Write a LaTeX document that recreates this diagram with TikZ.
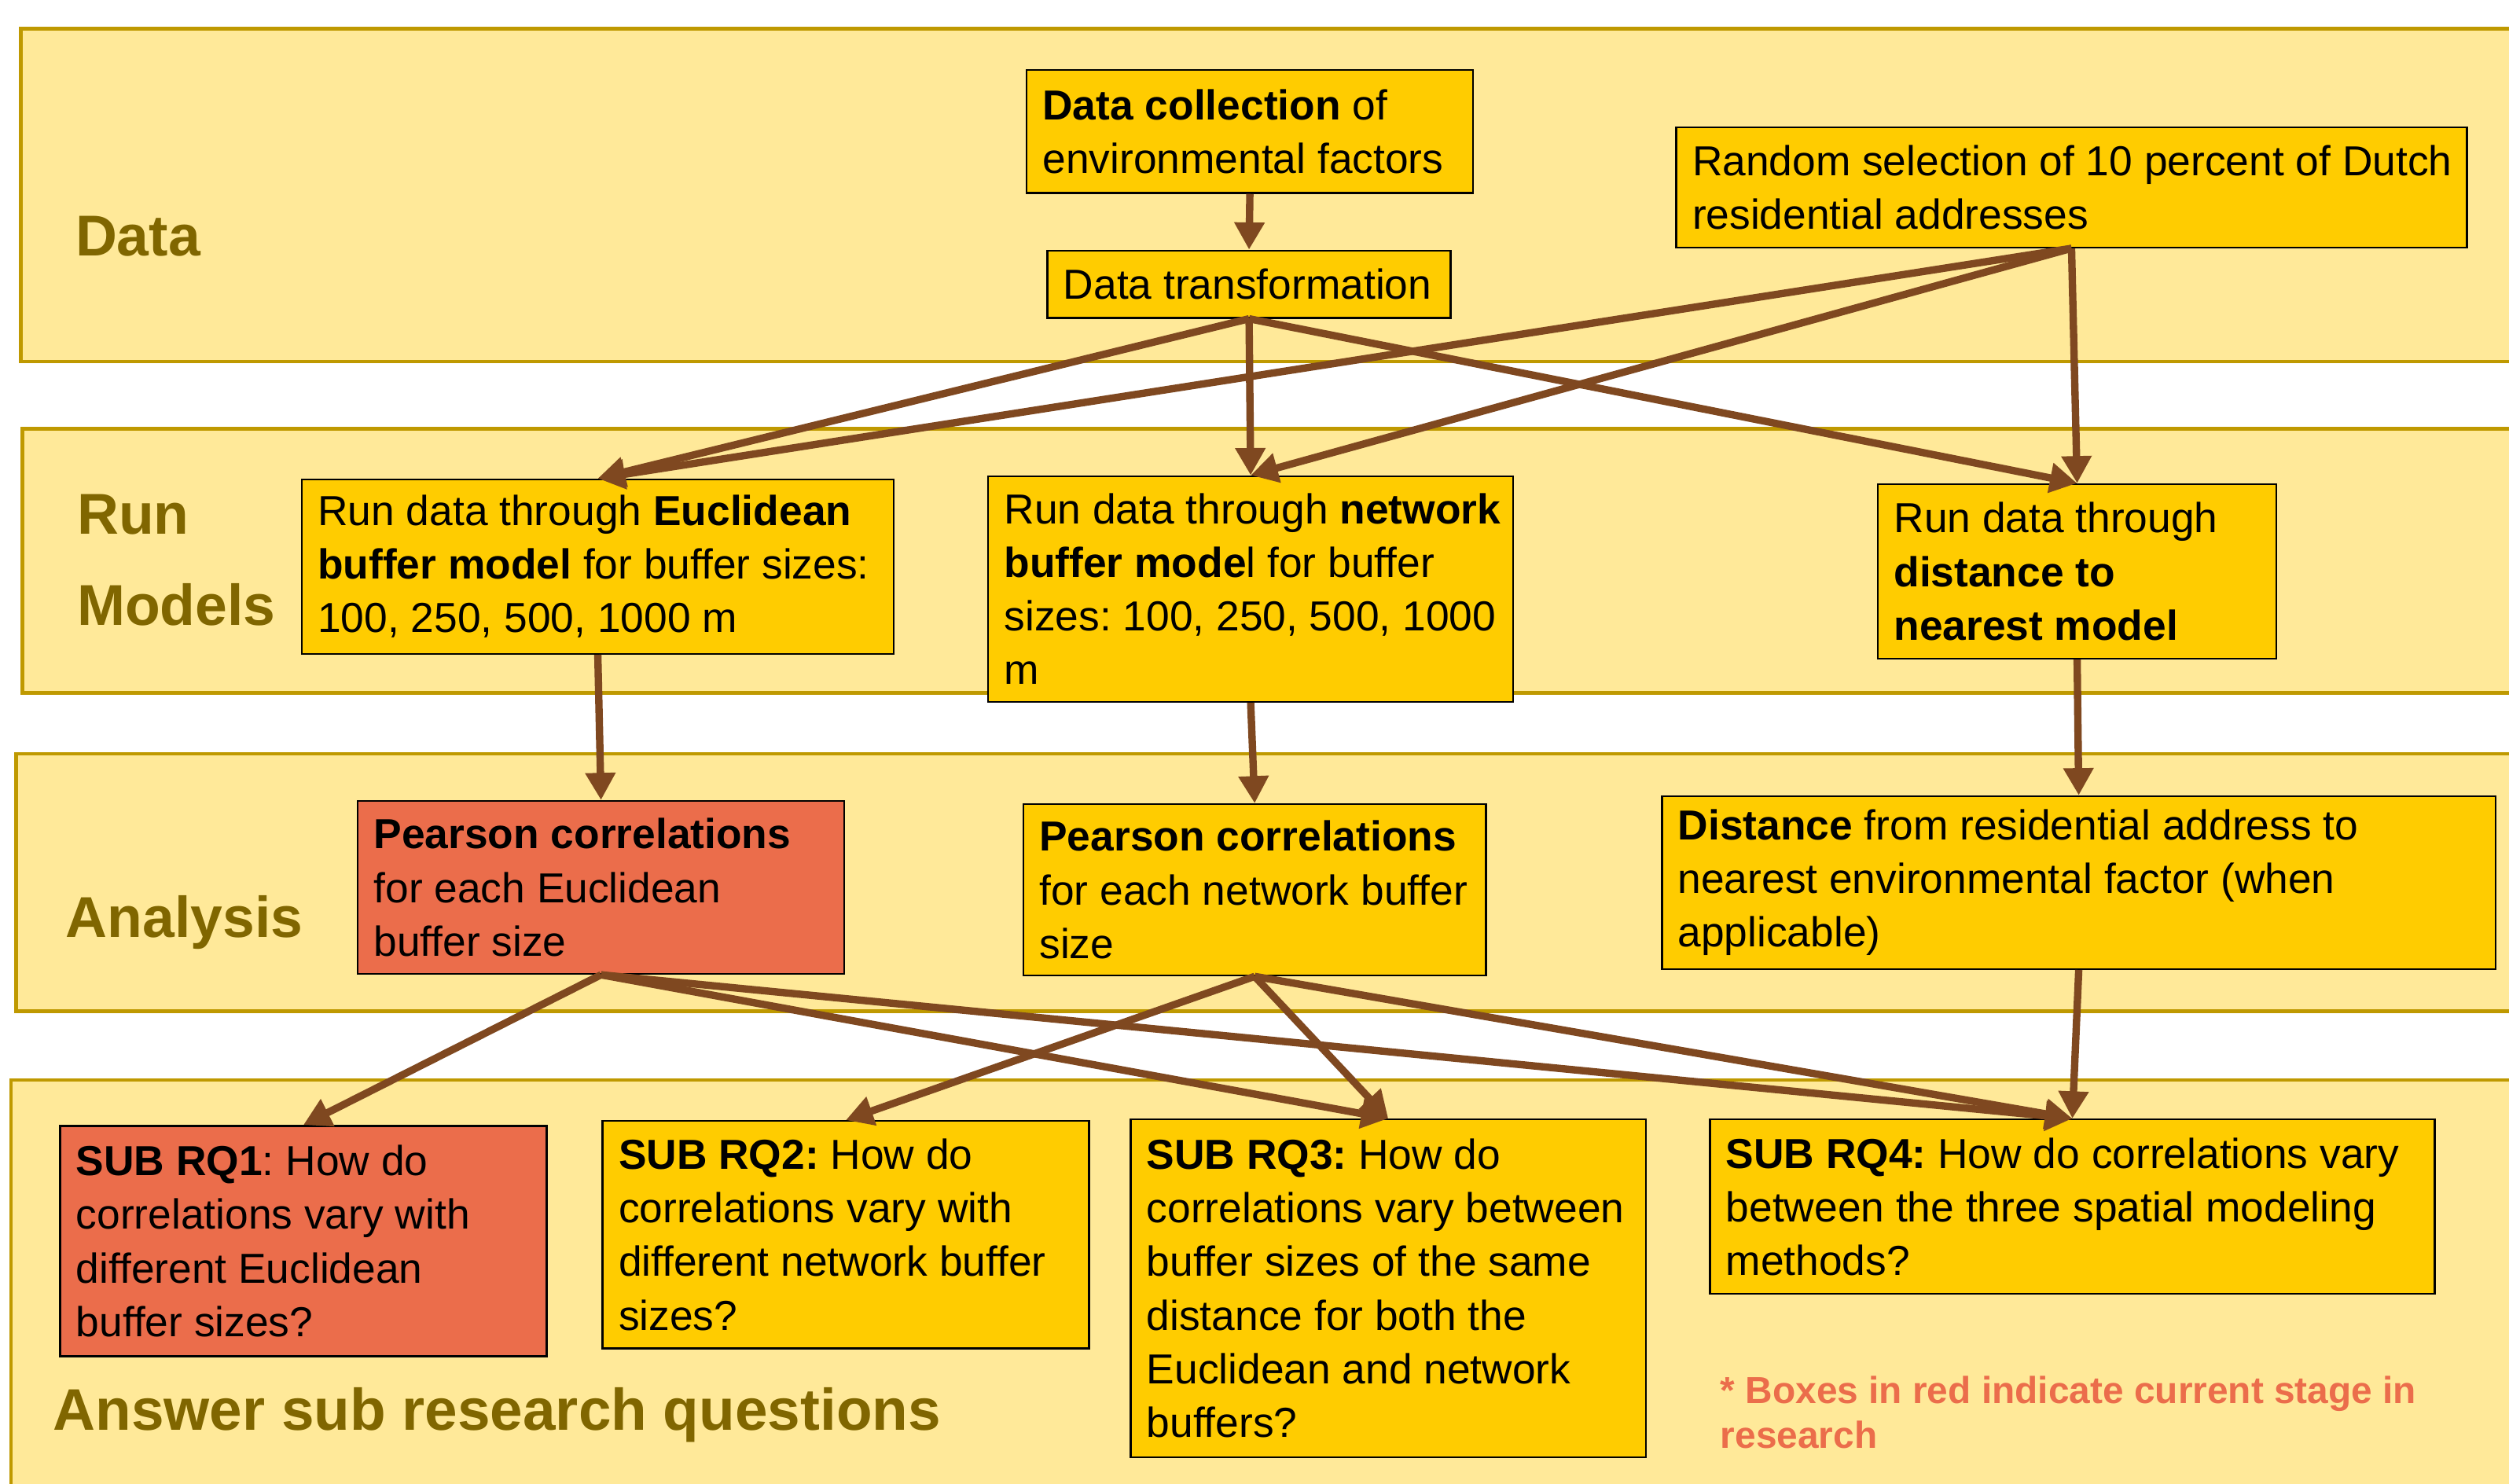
\documentclass[tikz,border=0pt]{standalone}
\usepackage{fontspec}
\setmainfont{Liberation Sans}
\usetikzlibrary{arrows.meta}
\definecolor{bandfill}{HTML}{FFE999}
\definecolor{banddraw}{HTML}{BF9900}
\definecolor{labelc}{HTML}{806600}
\definecolor{boxy}{HTML}{FFCC00}
\definecolor{boxr}{HTML}{EB6D4B}
\definecolor{arrowc}{HTML}{7F4820}
\newcommand\boxfont{\fontsize{26.2pt}{33.5pt}\selectfont}
\newcommand\bandfont{\fontsize{36pt}{57pt}\selectfont\bfseries}
\newcommand\notefont{\fontsize{23.5pt}{28pt}\selectfont\bfseries}
\frenchspacing
\begin{document}
\begin{tikzpicture}[x=1pt,y=-1pt,
  band/.style={draw=banddraw, fill=bandfill, line width=2.2pt},
  bandlabel/.style={text=labelc, font=\bandfont, inner sep=0pt, align=left},
  box/.style={draw=black, line width=1.2pt, fill=boxy, anchor=north west, inner xsep=10pt, inner ysep=0pt, align=left, font=\boxfont,
    execute at begin node={\spaceskip=0pt\xspaceskip=0pt\frenchspacing}},
  redbox/.style={box, fill=boxr},
  arr/.style={draw=arrowc, line width=4.6pt, -{Triangle[length=17pt,width=18pt]}},
]
\useasboundingbox (0,0) rectangle (1568,927);
\clip (0,0) rectangle (1568,927);
\fill[white] (0,0) rectangle (1568,927);

% bands
\draw[band] (13,18) rectangle (1600,226);
\draw[band] (14,268) rectangle (1600,433);
\draw[band] (10,471) rectangle (1600,632);
\draw[band] (7,675) rectangle (1600,960);

% band labels
\node[bandlabel, anchor=base west] (lData) at (47,160) {Data};
\node[bandlabel, anchor=north west] (lRun) at (48,309) {Run\\Models};
\node[bandlabel, anchor=base west] (lAna) at (41,586) {Analysis};
\node[bandlabel, anchor=base west, font={\fontsize{36.7pt}{44pt}\selectfont\bfseries}] (lAns) at (33,894) {Answer sub research questions};

% boxes
\node[box, text width=259pt, minimum height=77pt] (dc) at (641,43)
  {\mbox{\textbf{Data collection} of}\\\mbox{environmental factors}};
\node[box, text width=232pt, minimum height=42pt] (dt) at (654,156)
  {\mbox{Data transformation}};
\node[box, text width=474pt, minimum height=75pt] (rs) at (1047,79)
  {\mbox{Random selection of 10 percent of Dutch}\\\mbox{residential addresses}};
\node[box, text width=350pt, minimum height=109pt] (eu) at (188,299)
  {\mbox{Run data through \textbf{Euclidean}}\\\mbox{\textbf{buffer model} for buffer sizes:}\\\mbox{100, 250, 500, 1000 m}};
\node[box, text width=308pt, minimum height=141pt] (nw) at (617,297)
  {\mbox{Run data through \textbf{network}}\\\mbox{\textbf{buffer mode}l for buffer}\\\mbox{sizes: 100, 250, 500, 1000}\\\mbox{m}};
\node[box, text width=229pt, minimum height=109pt] (dn) at (1173,302)
  {\mbox{Run data through}\\\mbox{\textbf{distance to}}\\\mbox{\textbf{nearest model}}};
\node[redbox, text width=284pt, minimum height=108pt] (pe) at (223,500)
  {\mbox{\textbf{Pearson correlations}}\\\mbox{for each Euclidean}\\\mbox{buffer size}};
\node[box, text width=269pt, minimum height=107pt] (pn) at (639,502)
  {\mbox{\textbf{Pearson correlations}}\\\mbox{for each network buffer}\\\mbox{size}};
\node[box, text width=501pt, minimum height=108pt] (da) at (1038,497)
  {\mbox{\textbf{Distance} from residential address to}\\\mbox{nearest environmental factor (when}\\\mbox{applicable)}};
\node[redbox, text width=284pt, minimum height=144pt] (q1) at (37,703)
  {\mbox{\textbf{SUB RQ1}: How do}\\\mbox{correlations vary with}\\\mbox{different Euclidean}\\\mbox{buffer sizes?}};
\node[box, text width=284pt, minimum height=142pt] (q2) at (376,700)
  {\mbox{\textbf{SUB RQ2:} How do}\\\mbox{correlations vary with}\\\mbox{different network buffer}\\\mbox{sizes?}};
\node[box, text width=302pt, minimum height=211pt] (q3) at (706,699)
  {\mbox{\textbf{SUB RQ3:} How do}\\\mbox{correlations vary between}\\\mbox{buffer sizes of the same}\\\mbox{distance for both the}\\\mbox{Euclidean and network}\\\mbox{buffers?}};
\node[box, text width=433pt, minimum height=109pt] (q4) at (1068,699)
  {\mbox{\textbf{SUB RQ4:} How do correlations vary}\\\mbox{between the three spatial modeling}\\\mbox{methods?}};

% note
\node[anchor=north west, inner sep=0pt, align=left, text=boxr, font=\notefont] (note) at (1075,860)
  {* Boxes in red indicate current stage in\\research};

% connectors
\draw[arr] (dc.south) -- (dt.north);
\draw[arr] (dt.south) -- (eu.north);
\draw[arr] (dt.south) -- (nw.north);
\draw[arr] (dt.south) -- (dn.north);
\draw[arr] (rs.south) -- (eu.north);
\draw[arr] (rs.south) -- (nw.north);
\draw[arr] (rs.south) -- (dn.north);
\draw[arr] (eu.south) -- (pe.north);
\draw[arr] (nw.south) -- (pn.north);
\draw[arr] (dn.south) -- (da.north);
\draw[arr] (pe.south) -- (q1.north);
\draw[arr] (pe.south) -- (q3.north);
\draw[arr] (pe.south) -- (q4.north);
\draw[arr] (pn.south) -- (q2.north);
\draw[arr] (pn.south) -- (q3.north);
\draw[arr] (pn.south) -- (q4.north);
\draw[arr] (da.south) -- (q4.north);
\end{tikzpicture}
\end{document}
